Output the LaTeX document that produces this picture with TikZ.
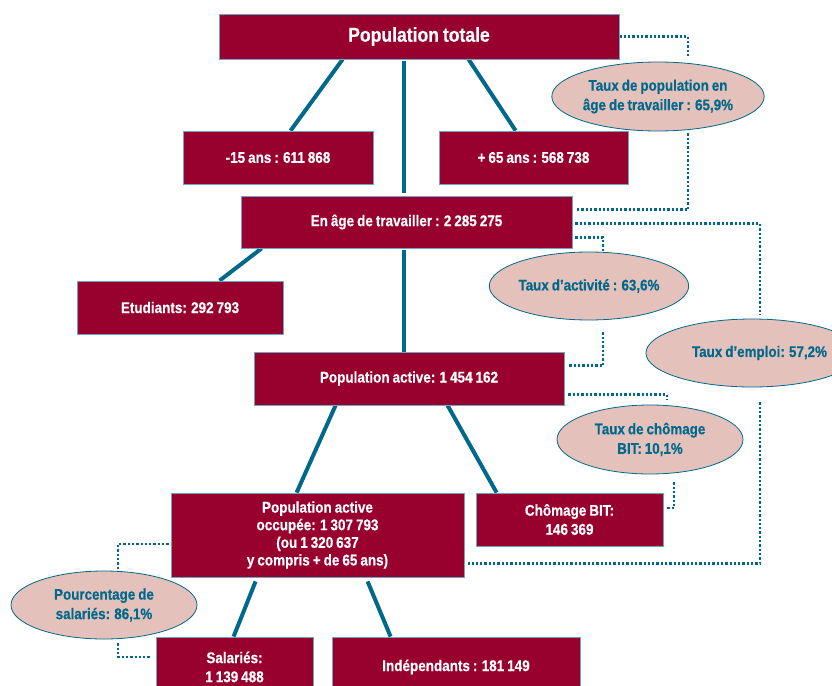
\documentclass[tikz,border=0pt]{standalone}
\usepackage{fontspec}
\setmainfont{Liberation Sans}[FakeStretch=0.87, WordSpace=0.8, BoldFeatures={FakeBold=0.4}]
\usetikzlibrary{shapes.geometric,calc,backgrounds}
\definecolor{boxred}{RGB}{152,0,46}
\definecolor{teal}{RGB}{0,104,139}
\definecolor{boxedge}{RGB}{110,165,195}
\definecolor{ellfill}{RGB}{229,193,188}
\tikzset{
  redbox/.style={rectangle, fill=boxred, draw=boxedge, line width=0.8pt, inner sep=0pt,
    text=white, font=\bfseries\fontsize{15.5}{19}\selectfont, align=center},
  rateell/.style={ellipse, fill=ellfill, draw=teal, line width=0.8pt, inner sep=0pt,
    text=teal, font=\bfseries\fontsize{15.4}{19.5}\selectfont, align=center},
  solidlink/.style={draw=teal, line width=4pt},
  dotlink/.style={draw=teal, line width=2.5pt, dash pattern=on 2.3pt off 2pt}
}
\begin{document}
\begin{tikzpicture}[x=1pt,y=-1pt]
\useasboundingbox (0,0) rectangle (832,685);

% boxes
\node[redbox, minimum width=400pt, minimum height=45pt, font=\bfseries\fontsize{20.2}{24}\selectfont] (tot) at (419,36.5) {Population totale};
\node[redbox, minimum width=190pt, minimum height=53pt] (m15) at (278,157.5) {-15 ans : 611 868};
\node[redbox, minimum width=189pt, minimum height=53pt] (p65) at (533.5,157.5) {+ 65 ans : 568 738};
\node[redbox, minimum width=331pt, minimum height=52pt] (age) at (406.5,222) {En âge de travailler : 2 285 275};
\node[redbox, minimum width=206pt, minimum height=53pt] (etu) at (180,307.5) {Etudiants: 292 793};
\node[redbox, minimum width=310pt, minimum height=53pt] (act) at (409,378.5) {Population active: 1 454 162};
\node[redbox, minimum width=293pt, minimum height=84pt, font=\bfseries\fontsize{15.5}{17.6}\selectfont] (occ) at (317.5,535) {Population active\\occupée: 1 307 793\\(ou 1 320 637\\y compris + de 65 ans)};
\node[redbox, minimum width=187pt, minimum height=53pt] (cho) at (569.5,519.5) {Chômage BIT:\\146 369};
\node[redbox, minimum width=157pt, minimum height=60pt] (sal) at (234.5,667) {Salariés:\\1 139 488};
\node[redbox, minimum width=248pt, minimum height=60pt] (ind) at (456,667) {Indépendants : 181 149};

% ellipses
\node[rateell, minimum width=186pt, minimum height=69pt] (e1) at (658,96.5) {Taux de population en\\âge de travailler : 65,9\%};
\node[rateell, minimum width=186pt, minimum height=68pt] (e2) at (589,286) {Taux d’activité : 63,6\%};
\node[rateell, minimum width=190pt, minimum height=68pt] (e3) at (752,353) {\hspace*{15pt}Taux d’emploi: 57,2\%};
\node[rateell, minimum width=186pt, minimum height=69pt] (e4) at (650,439.5) {Taux de chômage\\BIT: 10,1\%};
\node[rateell, minimum width=186pt, minimum height=68pt] (e5) at (104,605) {Pourcentage de\\salariés: 86,1\%};

\begin{pgfonlayer}{background}
\fill[white] (0,0) rectangle (832,685);
% dotted connectors
\draw[dotlink] (tot.east) -| ($(e1.north)+(30,-6)$);
\draw[dotlink] ($(e1.south)+(30,2)$) |- ($(age.north east)+(3,14)$);
\draw[dotlink] ($(age.north east)+(3,28)$) -| ($(e3.north)+(8,-4)$);
\draw[dotlink] ($(e3.south)+(8,15)$) |- ($(occ.south east)+(4,-14)$);
\draw[dotlink] ($(age.south east)+(3,-11)$) -| ($(e2.north)+(14,0)$);
\draw[dotlink] ($(e2.south)+(14,12)$) |- ($(act.north east)+(4,14)$);
\draw[dotlink] ($(act.south east)+(4,-11)$) -| ($(e4.north)+(17,-5)$);
\draw[dotlink] ($(e4.south)+(24,8)$) |- ($(cho.east)+(4,-11.5)$);
\draw[dotlink] ($(occ.west)+(-2,9)$) -| ($(e5.north)+(14,-1)$);
\draw[dotlink] ($(e5.south)+(14,4)$) |- ($(sal.west)+(-6,-10)$);

% solid connectors
\draw[solidlink] ($(tot.south west)+(124,0)$) -- ($(m15.north west)+(108,0)$);
\draw[solidlink] ($(tot.south west)+(185,2)$) -- ($(age.north west)+(163,-3)$);
\draw[solidlink] ($(tot.south west)+(250,0)$) -- ($(p65.north west)+(77,0)$);
\draw[solidlink] ($(age.south west)+(21,0)$) -- ($(etu.north west)+(143,0)$);
\draw[solidlink] ($(age.south west)+(163,2)$) -- ($(act.north west)+(150,0)$);
\draw[solidlink] ($(act.south west)+(82,0)$) -- ($(occ.north west)+(126,0)$);
\draw[solidlink] ($(act.south west)+(194,0)$) -- ($(cho.north west)+(21,0)$);
\draw[solidlink] ($(occ.south west)+(85,4)$) -- ($(sal.north west)+(78,0)$);
\draw[solidlink] ($(occ.south west)+(197,4)$) -- ($(ind.north west)+(59,0)$);
\end{pgfonlayer}
\end{tikzpicture}
\end{document}
